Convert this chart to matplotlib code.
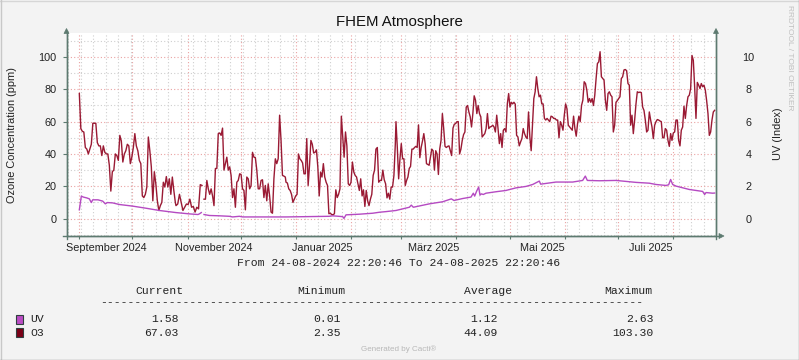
import numpy as np
import pandas as pd
import matplotlib
matplotlib.use("Agg")
import matplotlib.pyplot as plt
import matplotlib.dates as mdates
from matplotlib.lines import Line2D
from matplotlib.patches import Rectangle, Polygon

plt.rcParams['font.family'] = ['Liberation Sans', 'DejaVu Sans']

# time range of the graph
start = pd.Timestamp('2024-08-24 22:20:46')
end = pd.Timestamp('2025-08-24 22:20:46')

# O3 (ppm) in pieces: (first day, last day, values)
# days are counted from the start of the graph
o3_sep_oct = [77.4, 55.7, 54, 53.6, 44, 43, 40, 43, 46, 59, 59, 59, 47, 45, 45, 39,
              45, 41, 40, 40, 33, 17, 29, 30, 40, 39, 36, 51.5, 48, 35, 40, 42, 46,
              45, 34, 38, 44, 52.6, 45, 42, 36, 34, 14, 13, 15, 19.5, 50.5, 42, 32,
              11, 29, 21.5, 11, 5, 8, 10, 22.5, 19.5, 26, 19.5, 24.6, 15, 25.7, 17.4, 10]
o3_early_nov = [8, 9, 15, 10, 5, 7, 9, 8.7, 12, 7, 7.5, 4, 7, 6, 21, 20.5]
o3_nov_dec = [12, 12, 23.6, 18.4, 15, 18.4, 14, 8, 31, 31, 52.6, 53, 51.5, 56, 30, 34,
              38, 30, 32, 26.7, 13, 18.4, 7, 22.5, 23.6, 27.7, 27.3, 18.4, 17.4, 5.4,
              25.7, 24.6, 18.4, 20.5, 41, 38, 37.7, 30, 18.4, 18.4, 23.6, 24, 13, 20.5,
              11, 21.5, 14, 4, 3.3, 24.6, 37, 34, 37, 64, 48.4, 26.7, 26.3, 25.7]
o3_jan_feb = [22.5, 22, 18.4, 17.4, 15, 10, 12, 14, 15, 40, 37, 36, 34.4, 27.7, 27.7,
              49.5, 20.5, 33, 48.4, 46, 40.6, 41, 42.6, 32, 14, 28.8, 25.7, 34, 25.7,
              22.5, 20.5, 3, 3.3, 2.5, 2.35, 3, 17.8, 13, 15, 18.4, 63.4, 51, 38, 53.6,
              45, 21.5, 20.5, 22.5, 35, 28.8, 26.7, 25.7, 21.5, 17.4, 24.6, 14, 17.8,
              7.5, 17.4, 11, 8, 12, 15, 26.7, 30, 43, 44, 22.5, 23.6, 23.6, 30, 24,
              21.5, 12.8, 15.7, 12, 19.5, 19.5, 26.7, 46]
o3_mar_apr = [60, 44, 24.6, 37, 46.4, 37, 37, 20.5, 23.6, 25.7, 31, 32.3, 43, 43, 44,
              44.7, 44, 58, 37.7, 44, 48, 52.6, 46.4, 34, 33.5, 33, 38, 43, 42, 30, 42,
              40, 27.3, 43, 48.4, 65, 55.7, 44.7, 44, 44.7, 45, 42, 39, 56, 58.4, 58.8,
              60, 60, 40, 43, 48.4, 52, 53.6, 69, 70, 66, 63, 56.7, 65, 76, 73.3, 65,
              70, 65, 63, 50.5, 51.5, 52.6, 55.7, 65, 55.7, 56.7, 57, 57.8, 56.7, 53.6,
              64, 55.7, 46.4, 52.6, 44, 54.7, 55.7, 53.6]
o3_may_jun = [71, 77.4, 69, 72, 71, 72, 70.8, 51.5, 50.5, 45, 47.4, 49.5, 55.7, 52.6,
              50.5, 49.5, 66, 50.5, 42, 57.8, 74.3, 78.5, 87.8, 80.5, 75.4, 76.4, 71,
              71, 62, 61, 62, 61, 60, 63.4, 63, 62, 62, 61, 61, 50, 60, 57.8, 54.7, 64,
              71, 68, 57.8, 56.7, 55.7, 54.7, 63.4, 55.7, 51, 58.8, 63.4, 60, 70, 73.3,
              84.7, 83.6, 79.5, 72, 74.3, 72, 74.3, 70, 76.4, 86.7, 96, 97, 103.3, 87.8,
              86.7, 85.7, 73.3, 67, 77.4, 78.5, 76.4, 75.4, 53.6, 57.8, 72]
o3_jul_aug = [73, 74.3, 75.4, 86.7, 87.8, 92, 92.3, 91.5, 83.6, 82.6, 57.8, 64, 52.6,
              61, 71, 78.5, 78, 78.3, 78, 69, 67, 61, 53.6, 54.7, 66, 61, 56.7, 49.5,
              57.8, 60, 61.3, 61, 60.4, 60, 50, 50, 55.7, 54.7, 48.4, 44.7, 52.6, 48.4,
              53, 53.6, 61, 61, 48.4, 45, 54.7, 56.7, 69.6, 62, 70, 75.4, 76.4, 80.5,
              101, 98, 81.6, 62, 84.3, 82.6, 80.5, 83.6, 81.6, 82.6, 79.5, 73, 65, 51.5,
              53.6, 61, 66, 67.03]
o3_pieces = [(7.21, 61.16, o3_sep_oct),
             (61.53, 76.15, o3_early_nov),
             (77.27, 122.97, o3_nov_dec),
             (123.35, 184.78, o3_jan_feb),
             (185.16, 246.98, o3_mar_apr),
             (247.73, 308.79, o3_may_jun),
             (309.54, 364.24, o3_jul_aug)]
o3_gap_before = [False, False, True, False, False, False, False]

# UV index
uv_days = [7.21, 8.34, 9.46, 11.33, 12.83, 13.95, 14.71, 17.70, 20.33, 21.82, 22.95,
           25.94, 29.69, 37.18, 44.68, 52.17, 61.53, 69.03, 73.90, 74.65, 75.77, 76.5,
           77.27, 80.26, 85.88, 91.50, 93.38, 97.12, 99.00, 123.35, 147.70, 149.58,
           155.20, 155.94, 157.07, 164.56, 172.06, 175.80, 179.55, 185.16, 192.66,
           193.78, 194.90, 203.90, 211.39, 216.26, 217.76, 222.63, 227.31, 228.62,
           229.37, 230.50, 231.62, 232.37, 233.12, 234.24, 235.74, 241.36, 246.98,
           252.60, 258.22, 261.97, 265.71, 266.46, 275.08, 284.44, 290.07, 291.56,
           292.69, 299.43, 308.79, 320.03, 327.52, 331.27, 336.89, 338.39, 339.51,
           340.64, 342.51, 350.00, 357.50, 358.62, 359.37, 363.12, 364.24]
uv_index = [0.54, 1.39, 1.33, 1.28, 1.22, 0.99, 1.16, 1.16, 1.08, 0.91, 0.99, 0.97,
            0.87, 0.77, 0.64, 0.50, 0.37, 0.29, 0.25, 0.29, 0.37, np.nan, 0.25, 0.19,
            0.17, 0.14, 0.10, 0.14, 0.10, 0.10, 0.14, 0.17, 0.12, 0.01, 0.23, 0.27,
            0.33, 0.39, 0.43, 0.50, 0.70, 0.83, 0.70, 0.91, 1.04, 1.22, 1.12, 1.24,
            1.33, 1.57, 1.39, 1.70, 1.95, 1.45, 1.53, 1.49, 1.57, 1.66, 1.74, 1.90,
            1.99, 2.11, 2.32, 2.13, 2.26, 2.26, 2.36, 2.63, 2.36, 2.34, 2.36, 2.24,
            2.19, 2.11, 2.05, 2.09, 2.42, 2.11, 2.01, 1.80, 1.68, 1.49, 1.61, 1.57, 1.58]

# x axis labels
month_labels = ['September 2024', 'November 2024', 'Januar 2025',
                'März 2025', 'Mai 2025', 'Juli 2025']
label_times = ['2024-09-16 03:00', '2024-11-15 20:00', '2025-01-15 22:00',
               '2025-03-19 01:00', '2025-05-19 08:00', '2025-07-19 13:00']

# legend table
legend_names = ['UV', 'O3']
legend_current = ['1.58', '67.03']
legend_minimum = ['0.01', '2.35']
legend_average = ['1.12', '44.09']
legend_maximum = ['2.63', '103.30']

# build O3 series
o3_t, o3_v = [], []
for (d0, d1, vals), gap in zip(o3_pieces, o3_gap_before):
    if gap:
        o3_t.append((d0 + o3_t[-1]) / 2)
        o3_v.append(np.nan)
    o3_t.extend(np.linspace(d0, d1, len(vals)))
    o3_v.extend(vals)
o3_time = start + pd.to_timedelta(np.array(o3_t), unit='D')
uv_time = start + pd.to_timedelta(np.array(uv_days), unit='D')

W, H = 799, 360
BG = '#f3f3f3'
AXC = '#5d7a70'
O3C = '#9a1a34'
UVC = '#b54ac2'


def fx(x):
    return x / W


def fy(y):
    return 1 - y / H


fig = plt.figure(figsize=(W / 100, H / 100), dpi=100, facecolor=BG)
ax = fig.add_axes([fx(66.5), fy(236), (716 - 66.5) / W, (236 - 33.3) / H])
ax.set_facecolor('white')
ax.set_xlim(start, end)
ax.set_ylim(-10.8, 114.7)

# grid
ax.xaxis.set_major_locator(mdates.MonthLocator(bymonthday=1))
ax.xaxis.set_minor_locator(mdates.WeekdayLocator(byweekday=mdates.MO))
ax.xaxis.set_major_formatter(plt.NullFormatter())
ax.set_yticks(range(0, 101, 20))
ax.set_yticks(range(-10, 111, 10), minor=True)
ax.grid(which='minor', color='#cfcfcf', linestyle=(0, (1, 2)), linewidth=0.8)
ax.grid(which='major', color='#eaa2a2', linestyle=(0, (1, 2)), linewidth=0.8)
ax.set_axisbelow(True)
ax.tick_params(axis='x', which='major', length=2, color=AXC, direction='out')
ax.tick_params(axis='x', which='minor', length=0)
ax.tick_params(axis='y', which='major', length=3, color=AXC, direction='out',
               labelsize=7.8, pad=4, labelcolor='#222222')
ax.tick_params(axis='y', which='minor', length=0)

ax.spines['top'].set_visible(False)
for s in ['left', 'bottom', 'right']:
    ax.spines[s].set_color(AXC)
    ax.spines[s].set_linewidth(1.0)

# month labels on a second bottom axis
sec = ax.secondary_xaxis('bottom')
sec.set_xticks(pd.to_datetime(label_times), labels=month_labels)
sec.tick_params(length=0, labelsize=7.8, pad=5, labelcolor='#222222')
sec.spines['bottom'].set_visible(False)

ax.plot(o3_time, o3_v, color=O3C, linewidth=1.0, zorder=3)

ax2 = ax.twinx()
ax2.set_ylim(-1.08, 11.47)
ax2.set_yticks(range(0, 11, 2))
ax2.tick_params(axis='y', length=0, labelsize=7.8, pad=23.5, labelcolor='#222222')
for lab in ax2.get_yticklabels():
    lab.set_horizontalalignment('center')
for s in ax2.spines.values():
    s.set_visible(False)
ax2.plot(uv_time, uv_index, color=UVC, linewidth=1.0, zorder=2)

# axis extensions and arrows
fig.add_artist(Line2D([fx(63), fx(719)], [fy(236), fy(236)], color=AXC, lw=1))
fig.add_artist(Line2D([fx(66.5), fx(66.5)], [fy(239), fy(31)], color=AXC, lw=1))
fig.add_artist(Line2D([fx(716), fx(716)], [fy(239), fy(31)], color=AXC, lw=1))
for pts in ([(64, 33.5), (69, 33.5), (66.5, 28.5)],
            [(713.5, 33.5), (718.5, 33.5), (716, 28.5)],
            [(719, 233.5), (719, 238.5), (724, 236)]):
    fig.add_artist(Polygon([(fx(a), fy(b)) for a, b in pts], closed=True,
                           facecolor=AXC, edgecolor=AXC, lw=0.5))

# texts
fig.text(fx(399), fy(22), 'FHEM Atmosphere', ha='center', va='center',
         fontsize=10.8, color='#111111')
fig.text(fx(12), fy(135), 'Ozone Concentration (ppm)', rotation=90,
         ha='center', va='center', fontsize=7.9, color='#222222')
fig.text(fx(778), fy(134), 'UV (Index)', rotation=90,
         ha='center', va='center', fontsize=7.9, color='#222222')
fig.text(fx(790), fy(5), 'RRDTOOL / TOBI OETIKER', rotation=270,
         ha='center', va='top', fontsize=6.0, color='#c0c0c0')

mono = dict(family='Liberation Mono', fontsize=8.2, color='#222222')
fig.text(fx(399), fy(263), 'From 24-08-2024 22:20:46 To 24-08-2025 22:20:46',
         ha='center', va='center', **mono)
for head, xc in zip(['Current', 'Minimum', 'Average', 'Maximum'],
                    [159, 321.5, 488, 628.5]):
    fig.text(fx(xc), fy(290.5), head, ha='center', va='center', **mono)
fig.text(fx(100), fy(302.5), '-' * 79, ha='left', va='center', **mono)

row_y = [319, 332.5]
sq_colors = ['#bb4cc4', '#7a0016']
for i, name in enumerate(legend_names):
    y = row_y[i]
    fig.add_artist(Rectangle((fx(15.5), fy(y + 4.5)), 7.5 / W, 9 / H,
                             facecolor=sq_colors[i], edgecolor='#2f3f3f', lw=0.8))
    fig.text(fx(30), fy(y), name, ha='left', va='center', **mono)
    for val, xr in zip([legend_current[i], legend_minimum[i],
                        legend_average[i], legend_maximum[i]],
                       [178.5, 341, 497.5, 653.5]):
        fig.text(fx(xr), fy(y), val, ha='right', va='center', **mono)

fig.text(fx(399), fy(349), 'Generated by Cacti®', ha='center', va='center',
         fontsize=5.8, color='#b8b8b8')

# 3d-ish frame
fig.add_artist(Line2D([0, 1], [fy(0.5), fy(0.5)], color='#d6d6d6', lw=1))
fig.add_artist(Line2D([fx(0.5), fx(0.5)], [0, 1], color='#c8c8c8', lw=1))
fig.add_artist(Line2D([0, 1], [fy(359.5), fy(359.5)], color='#9a9a9a', lw=1))
fig.add_artist(Line2D([fx(798.5), fx(798.5)], [0, 1], color='#9a9a9a', lw=1))

fig.savefig('out.png', dpi=100, facecolor=BG)
